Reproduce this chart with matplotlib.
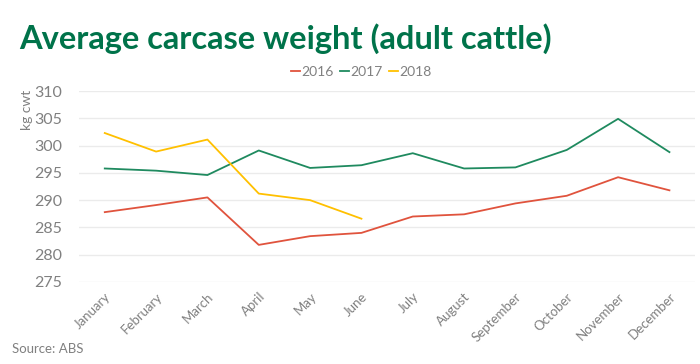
import matplotlib
matplotlib.use("Agg")
import matplotlib.pyplot as plt

months = ["January", "February", "March", "April", "May", "June", "July",
          "August", "September", "October", "November", "December"]
w2016 = [287.8, 289.1, 290.5, 281.8, 283.4, 284.0, 287.0, 287.4, 289.4, 290.8, 294.2, 291.8]
w2017 = [295.8, 295.4, 294.6, 299.1, 295.9, 296.4, 298.6, 295.8, 296.0, 299.2, 304.9, 298.8]
w2018 = [302.3, 298.9, 301.1, 291.2, 290.0, 286.6]

plt.rcParams['font.family'] = ['Lato', 'DejaVu Sans']
grey = '#808080'

fig = plt.figure(figsize=(7, 3.64), dpi=100)
ax = fig.add_axes([0.113, 0.2253, 0.88, 0.5247])

x = list(range(len(months)))
ax.plot(x, w2016, color='#e0533d', lw=1.3, label='2016')
ax.plot(x, w2017, color='#1f8a5f', lw=1.3, label='2017')
ax.plot(x[:len(w2018)], w2018, color='#ffc000', lw=1.3, label='2018')

ax.set_xlim(-0.5, 11.5)
ax.set_ylim(275, 310)
ax.set_yticks(range(275, 311, 5))
ax.set_xticks(x)
ax.set_xticklabels(months, rotation=45, ha='right', rotation_mode='anchor')
ax.tick_params(axis='y', length=0, labelsize=11.5, labelcolor=grey, pad=12)
ax.tick_params(axis='x', length=0, labelsize=9.5, labelcolor=grey, pad=6)
ax.grid(axis='y', color='#ebebeb', lw=1)
ax.set_axisbelow(True)
for s in ax.spines.values():
    s.set_visible(False)

ax.set_ylabel('kg cwt', color=grey, fontsize=10)
ax.yaxis.set_label_coords(-0.075, 0.90)

ax.legend(loc='center', bbox_to_anchor=(0.458, 1.10), ncol=3, frameon=False,
          fontsize=10, labelcolor=grey, handlelength=0.7, handletextpad=0.1,
          columnspacing=0.4)

fig.text(0.028, 0.895, 'Average carcase weight (adult cattle)', color='#00734a',
         fontsize=23.5, fontweight='bold', va='center')
fig.text(0.017, 0.04, 'Source: ABS', color=grey, fontsize=9.5, va='center')

fig.savefig('out.png', dpi=100)
